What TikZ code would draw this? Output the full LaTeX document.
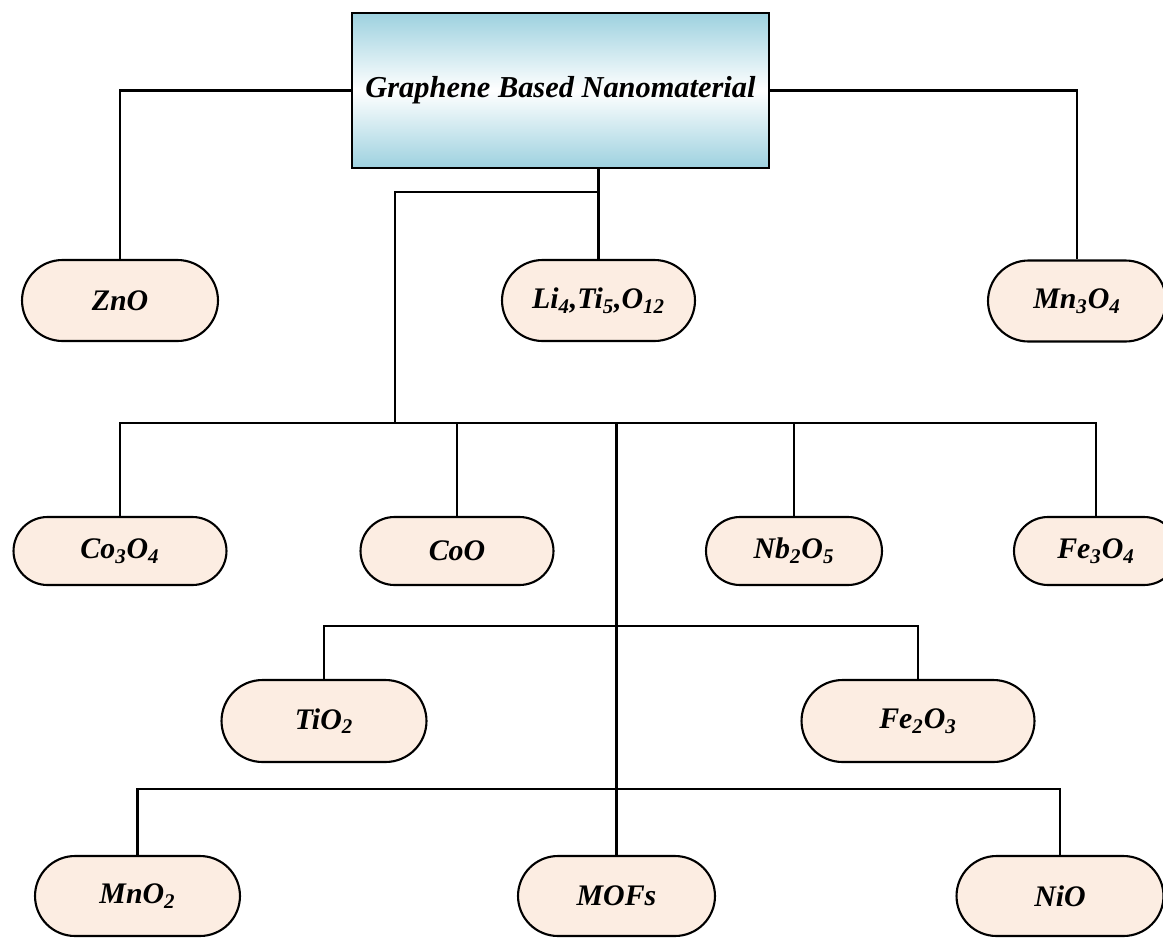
\documentclass[tikz,border=0pt]{standalone}
\usepackage{fontspec}
\setmainfont{Liberation Serif}
\usetikzlibrary{shapes.misc}
\definecolor{rootblue}{HTML}{9DD1DF}
\definecolor{leafpeach}{HTML}{FCEDE2}

\begin{document}
\begin{tikzpicture}[x=0.02cm,y=-0.02cm,line width=1.2pt,
        font=\fontsize{17}{20}\selectfont\bfseries\itshape,
        root/.style={draw,line width=1.5pt,minimum width=8.34cm,minimum height=3.1cm,
            top color=rootblue,bottom color=rootblue,middle color=white},
        leaf/.style={draw,rounded rectangle,fill=leafpeach,inner sep=0pt}]
    \useasboundingbox (0,0) rectangle (1163,937);
    % Top box:
    \node[root] (root) at (560.5,90.5) {\fontsize{17.3}{20}\selectfont Graphene Based Nanomaterial};

    % First row of leaves:
    \node[leaf,minimum width=3.92cm,minimum height=1.62cm] (zno) at (120,300.5) {ZnO};
    \node[leaf,minimum width=3.86cm,minimum height=1.62cm] (lto) at (598.5,300.5) {Li\textsubscript{4},Ti\textsubscript{5},O\textsubscript{12}};
    \node[leaf,minimum width=3.56cm,minimum height=1.62cm] (mn3o4) at (1077,301) {Mn\textsubscript{3}O\textsubscript{4}};

    % Second row of leaves:
    \node[leaf,minimum width=4.26cm,minimum height=1.36cm] (co3o4) at (120,551) {Co\textsubscript{3}O\textsubscript{4}};
    \node[leaf,minimum width=3.86cm,minimum height=1.36cm] (coo) at (457,551) {CoO};
    \node[leaf,minimum width=3.52cm,minimum height=1.36cm] (nb2o5) at (794,551) {Nb\textsubscript{2}O\textsubscript{5}};
    \node[leaf,minimum width=3.28cm,minimum height=1.36cm] (fe3o4) at (1096,551) {Fe\textsubscript{3}O\textsubscript{4}};

    % Third row of leaves:
    \node[leaf,minimum width=4.1cm,minimum height=1.64cm] (tio2) at (324,721) {TiO\textsubscript{2}};
    \node[leaf,minimum width=4.66cm,minimum height=1.64cm] (fe2o3) at (918,721) {Fe\textsubscript{2}O\textsubscript{3}};

    % Fourth row of leaves:
    \node[leaf,minimum width=4.1cm,minimum height=1.6cm] (mno2) at (137.5,896) {MnO\textsubscript{2}};
    \node[leaf,minimum width=3.94cm,minimum height=1.6cm] (mofs) at (616.5,896) {MOFs};
    \node[leaf,minimum width=4.14cm,minimum height=1.6cm] (nio) at (1060,896) {NiO};

    % Connectors:
    \coordinate (split) at (598,192);
    \coordinate (drop) at (395,423);
    \coordinate (bus) at (0,423);
    \coordinate (bar3) at (0,626);
    \coordinate (bar4) at (0,789);
    \draw (root.west) -| (zno.north);
    \draw (root.east) -| (mn3o4.north);
    \draw (root.south -| lto.north) -- (lto.north);
    \draw (split) -| (drop);
    \draw (co3o4.north) |- (fe3o4.north |- bus) -- (fe3o4.north);
    \foreach \n in {coo,nb2o5,mofs}{%
        \draw (\n.north) -- (\n.north |- bus);
    }
    \draw (tio2.north) |- (fe2o3.north |- bar3) -- (fe2o3.north);
    \draw (mno2.north) |- (nio.north |- bar4) -- (nio.north);
\end{tikzpicture}
\end{document}
